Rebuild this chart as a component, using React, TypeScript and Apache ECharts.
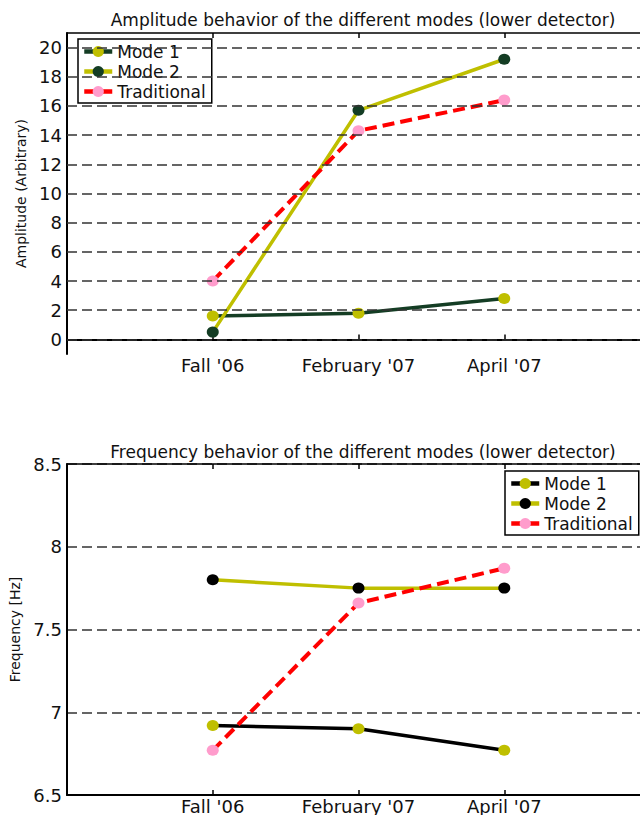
import React, { useEffect, useRef } from "react";
import * as echarts from "echarts";

const categories = ["Fall '06", "February '07", "April '07"];
const seriesNames = ["Mode 1", "Mode 2", "Traditional"];

const ampTitle = "Amplitude behavior of the different modes (lower detector)";
const ampAxisName = "Amplitude (Arbitrary)";
const ampMode1 = [1.6, 1.8, 2.8];
const ampMode2 = [0.5, 15.7, 19.2];
const ampTraditional = [4.0, 14.3, 16.4];
const ampTicks = [0, 2, 4, 6, 8, 10, 12, 14, 16, 18, 20];

const freqTitle = "Frequency behavior of the different modes (lower detector)";
const freqAxisName = "Frequency [Hz]";
const freqMode1 = [6.92, 6.9, 6.77];
const freqMode2 = [7.8, 7.75, 7.75];
const freqTraditional = [6.77, 7.66, 7.87];

const FONT = "'DejaVu Sans', sans-serif";
const TXT = "#111";
const OLIVE = "#bfbf00";
const DKGREEN = "#143d24";
const RED = "#ff0000";
const PINK = "#ff9ccc";
const BLACK = "#000000";

function mkSeries(name: string, values: number[], lineColor: string, markerColor: string, dashed: boolean) {
  return {
    type: "line",
    name,
    xAxisIndex: 0,
    yAxisIndex: 0,
    data: values.map((v, i) => [i + 1, v]),
    symbol: "circle",
    symbolSize: [12, 11],
    showSymbol: true,
    z: 3,
    lineStyle: { color: lineColor, width: dashed ? 4 : 3.5, type: dashed ? [12, 6] : "solid" },
    itemStyle: { color: markerColor },
    emphasis: { disabled: true },
  };
}

function xAxes() {
  return [
    {
      type: "value",
      position: "bottom",
      min: 0,
      max: 4,
      interval: 1,
      axisLine: { lineStyle: { color: BLACK, width: 2 } },
      axisTick: { inside: true, length: 5, lineStyle: { color: BLACK, width: 1.5 } },
      axisLabel: {
        margin: 2,
        fontFamily: FONT,
        fontSize: 18,
        color: TXT,
        formatter: (v: number) => categories[Math.round(v) - 1] ?? "",
      },
      splitLine: { show: false },
    },
    {
      type: "value",
      position: "top",
      min: 0,
      max: 4,
      interval: 1,
      axisLine: { lineStyle: { color: BLACK, width: 1.5 } },
      axisTick: { inside: true, length: 5, lineStyle: { color: BLACK, width: 1.5 } },
      axisLabel: { show: false },
      splitLine: { show: false },
    },
  ];
}

function legendOpt(left: number, top: number) {
  return {
    orient: "vertical",
    left,
    top,
    padding: [4, 6, 3, 4],
    itemWidth: 28,
    itemHeight: 14,
    itemGap: 3,
    backgroundColor: "#fff",
    borderColor: BLACK,
    borderWidth: 1.5,
    borderRadius: 0,
    selectedMode: false,
    data: seriesNames,
    lineStyle: { width: 4.5 },
    textStyle: { fontFamily: FONT, fontSize: 17, color: TXT, lineHeight: 16 },
  };
}

function titleOpt(text: string, top: number) {
  return {
    text,
    left: 358,
    top,
    textAlign: "center",
    textStyle: { fontFamily: FONT, fontSize: 17, fontWeight: "normal", color: TXT },
  };
}

function ampOption() {
  return {
    animation: false,
    backgroundColor: "#fff",
    title: titleOpt(ampTitle, 6),
    legend: legendOpt(78, 39),
    grid: { left: 67, top: 33, width: 583, height: 321, containLabel: false },
    xAxis: xAxes(),
    yAxis: {
      type: "value",
      min: -1,
      max: 21,
      interval: 1,
      axisLine: { show: true, lineStyle: { color: BLACK, width: 2 } },
      axisTick: { show: false },
      axisLabel: {
        margin: 5,
        fontFamily: FONT,
        fontSize: 18,
        color: TXT,
        formatter: (v: number) => (ampTicks.includes(v) ? String(v) : ""),
      },
      splitLine: { show: false },
      name: ampAxisName,
      nameLocation: "middle",
      nameGap: 34,
      nameTextStyle: { fontFamily: FONT, fontSize: 14, color: TXT },
    },
    series: [
      {
        type: "line",
        name: "grid",
        data: [],
        z: 1,
        markLine: {
          silent: true,
          symbol: ["none", "none"],
          label: { show: false },
          lineStyle: { color: "#333", width: 1.5, type: [10, 5] },
          emphasis: { disabled: true },
          data: ampTicks.map((v) => ({ yAxis: v })),
        },
      },
      mkSeries(seriesNames[0], ampMode1, DKGREEN, OLIVE, false),
      mkSeries(seriesNames[1], ampMode2, OLIVE, DKGREEN, false),
      mkSeries(seriesNames[2], ampTraditional, RED, PINK, true),
    ],
  };
}

function freqOption() {
  return {
    animation: false,
    backgroundColor: "#fff",
    title: titleOpt(freqTitle, 38),
    legend: legendOpt(505, 71),
    grid: { left: 67, top: 64, width: 583, height: 333, containLabel: false },
    xAxis: xAxes(),
    yAxis: {
      type: "value",
      min: 6.5,
      max: 8.5,
      interval: 0.5,
      axisLine: { show: true, lineStyle: { color: BLACK, width: 2 } },
      axisTick: { show: false },
      axisLabel: {
        margin: 5,
        fontFamily: FONT,
        fontSize: 18,
        color: TXT,
        formatter: (v: number) => String(v),
      },
      splitLine: { show: true, lineStyle: { color: "#333", width: 1.5, type: [10, 5] } },
      name: freqAxisName,
      nameLocation: "middle",
      nameGap: 42,
      nameTextStyle: { fontFamily: FONT, fontSize: 14, color: TXT },
    },
    series: [
      mkSeries(seriesNames[0], freqMode1, BLACK, OLIVE, false),
      mkSeries(seriesNames[1], freqMode2, OLIVE, BLACK, false),
      mkSeries(seriesNames[2], freqTraditional, RED, PINK, true),
    ],
  };
}

function Chart({ option, top, height }: { option: any; top: number; height: number }) {
  const ref = useRef<HTMLDivElement>(null);
  useEffect(() => {
    if (!ref.current) return;
    const chart = echarts.init(ref.current, undefined, { renderer: "svg" });
    chart.setOption(option);
    return () => chart.dispose();
  }, []);
  return <div ref={ref} style={{ position: "absolute", left: 0, top, width: 660, height }} />;
}

export default function App() {
  return (
    <div
      style={{
        position: "fixed",
        left: 0,
        top: 0,
        width: 640,
        height: 815,
        overflow: "hidden",
        background: "#fff",
      }}
    >
      <Chart option={ampOption()} top={0} height={400} />
      <Chart option={freqOption()} top={400} height={415} />
    </div>
  );
}
